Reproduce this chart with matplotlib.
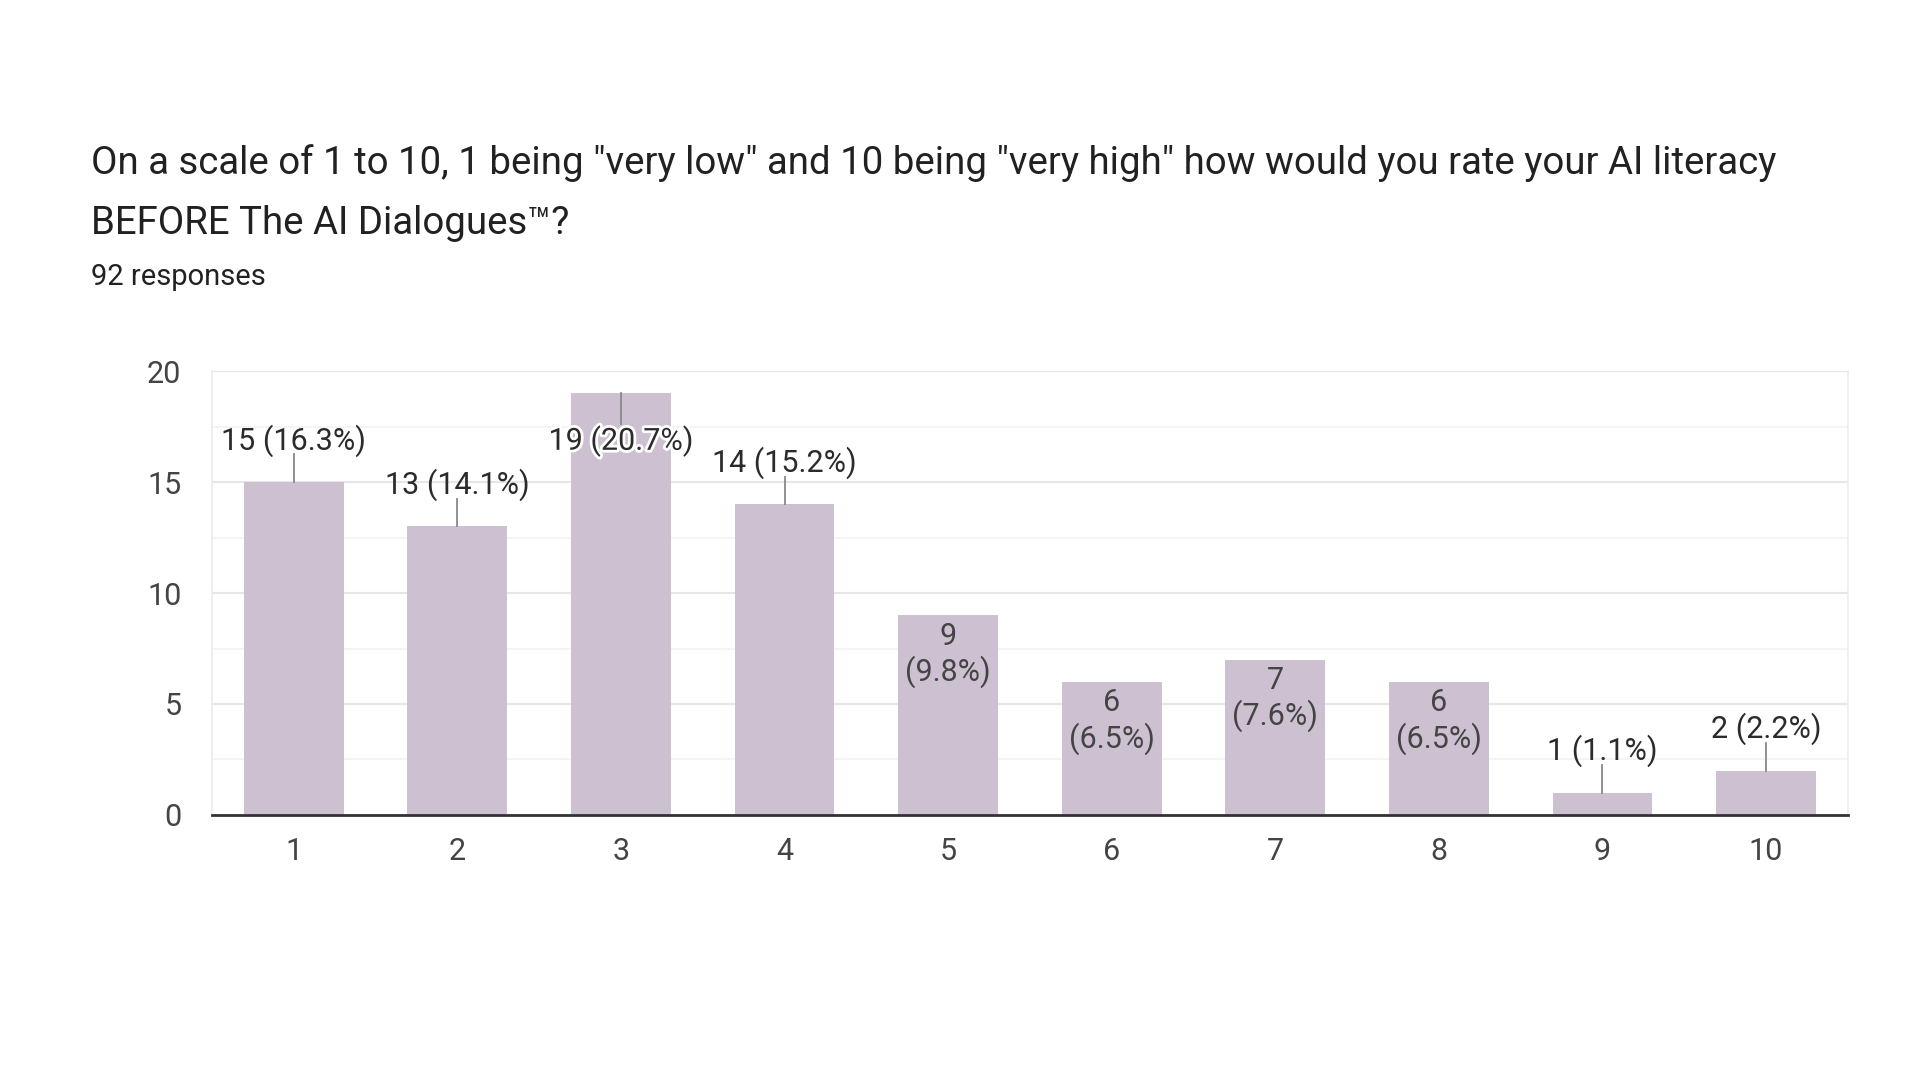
import matplotlib.pyplot as plt
import matplotlib.patheffects as pe
from matplotlib.ticker import MultipleLocator

plt.rcParams['font.family'] = ['Roboto', 'DejaVu Sans']

title_lines = ['On a scale of 1 to 10, 1 being "very low" and 10 being "very high" how would you rate your AI literacy',
               'BEFORE The AI Dialogues\u2122?']
subtitle = '92 responses'
ratings = [1, 2, 3, 4, 5, 6, 7, 8, 9, 10]
counts = [15, 13, 19, 14, 9, 6, 7, 6, 1, 2]
percents = ['16.3%', '14.1%', '20.7%', '15.2%', '9.8%', '6.5%', '7.6%', '6.5%', '1.1%', '2.2%']

bar_color = '#cdc1d1'
text_color = '#2b2b2b'
label_size = 22

fig = plt.figure(figsize=(19.2, 10.8), dpi=100)
fig.text(0.0474, 0.849, title_lines[0], fontsize=27.6, color='#212121', va='center')
fig.text(0.0474, 0.7935, title_lines[1], fontsize=27.6, color='#212121', va='center')
fig.text(0.0474, 0.7435, subtitle, fontsize=21, color='#212121', va='center')

ax = fig.add_axes([0.1104, 0.2454, 0.852, 0.411])
ax.bar(ratings, counts, width=0.61, color=bar_color, zorder=2)
ax.set_xlim(0.5, 10.5)
ax.set_ylim(0, 20)
ax.set_xticks(ratings)
ax.yaxis.set_major_locator(MultipleLocator(5))
ax.yaxis.set_minor_locator(MultipleLocator(2.5))
ax.grid(axis='y', which='major', color='#e6e6e6', linewidth=1.5, zorder=0)
ax.grid(axis='y', which='minor', color='#f2f2f2', linewidth=1.2, zorder=0)
ax.tick_params(axis='both', which='both', length=0, labelsize=label_size, labelcolor='#444444')
ax.tick_params(axis='y', pad=22)
ax.tick_params(axis='x', pad=16)
for side in ['left', 'right', 'top']:
    ax.spines[side].set_color('#ececec')
    ax.spines[side].set_linewidth(1.2)
ax.spines['top'].set_visible(False)
ax.spines['bottom'].set_color('#333333')
ax.spines['bottom'].set_linewidth(2)
ax.spines['bottom'].set_zorder(3)

for x, v, p in zip(ratings, counts, percents):
    if 5 <= v <= 10:
        # two-line label inside the bar
        ax.text(x, v - 0.95, str(v), ha='center', va='center', fontsize=label_size, color='#444444', zorder=4)
        ax.text(x, v - 2.55, f'({p})', ha='center', va='center', fontsize=label_size, color='#444444', zorder=4)
    elif v + 2 > 20:
        # label drawn just below the top of a tall bar
        ax.plot([x, x], [v, v - 1.4], color='#888888', linewidth=1.3, zorder=3)
        ax.text(x, v - 2.14, f'{v} ({p})', ha='center', va='center', fontsize=label_size, color=text_color, zorder=4,
                path_effects=[pe.withStroke(linewidth=4, foreground='white')])
    else:
        ax.plot([x, x], [v, v + 1.25], color='#888888', linewidth=1.3, zorder=3)
        ax.text(x, v + 1.88, f'{v} ({p})', ha='center', va='center', fontsize=label_size, color=text_color, zorder=4)

fig.savefig('out.png', dpi=100, facecolor='white')
